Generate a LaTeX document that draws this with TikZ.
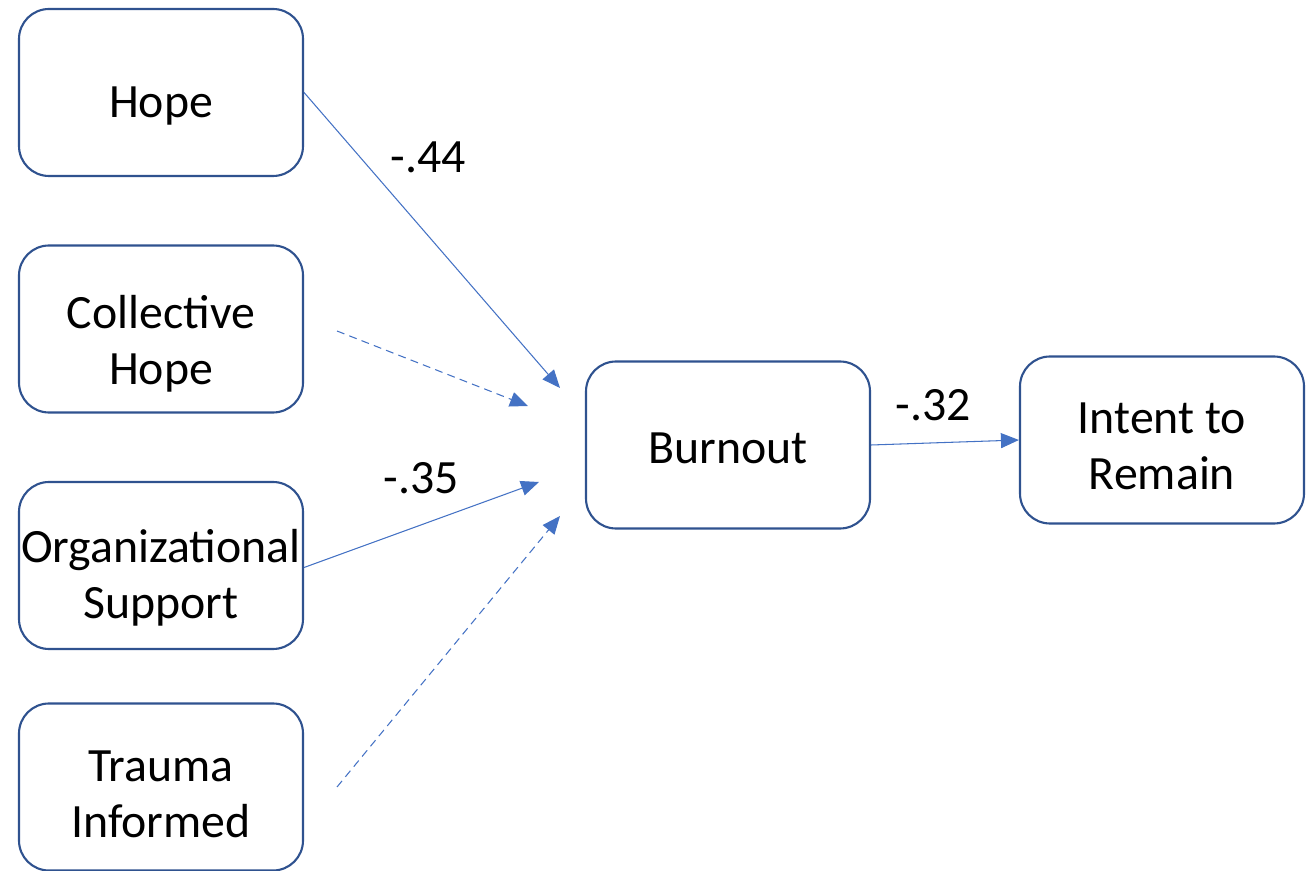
\documentclass[tikz,border=0pt]{standalone}
\usepackage{fontspec}
\setmainfont{Carlito}
\usepackage{tikz}
\usetikzlibrary{arrows.meta,calc}

\definecolor{boxline}{HTML}{2F528F}
\definecolor{pathblue}{HTML}{4472C4}

\tikzset{
  txt/.style={align=center, font=\fontsize{27.2}{32}\selectfont},
  var/.style 2 args={draw=boxline, line width=1.2pt, rounded corners=0.6cm,
    minimum width=5.68cm, minimum height=3.34cm, inner sep=0pt,
    label={[txt,yshift=#2]center:{#1}}},
  path/.style={draw=pathblue, line width=0.6pt,
    -{Triangle[length=0.36cm,width=0.3cm]}},
  nspath/.style={path, dash pattern=on 4.5pt off 3pt},
  coef/.style={font=\fontsize{27.2}{32}\selectfont}
}

\begin{document}
\begin{tikzpicture}
\useasboundingbox (0,0) rectangle (26.32,-17.42);
%predictors
\path (3.22,-1.85) node[var={Hope}{-0.27cm}] (hope) {};
\path (3.22,-6.58) node[var={Collective\\Hope}{-0.30cm}] (chope) {};
\path (3.22,-11.31) node[var={Organizational\\Support}{-0.24cm}] (orgsup) {};
\path (3.22,-15.74) node[var={Trauma\\Informed}{-0.14cm}] (trauma) {};
%mediator and outcome
\path (14.56,-8.90) node[var={Burnout}{-0.06cm}] (burnout) {};
\path (23.24,-8.80) node[var={Intent to\\Remain}{-0.13cm}] (remain) {};
%free ends
\coordinate (h2) at (11.20,-7.76);
\coordinate (c1) at (6.74,-6.62);
\coordinate (c2) at (10.56,-8.12);
\coordinate (o2) at (10.78,-9.64);
\coordinate (t1) at (6.74,-15.74);
\coordinate (t2) at (11.20,-10.32);
%paths
\draw[path] (hope.east) -- (h2);
\draw[nspath] (c1) -- (c2);
\draw[path] ($(orgsup.east)+(0,-0.04)$) -- (o2);
\draw[nspath] (t1) -- (t2);
\draw[path] (burnout.east) -- (remain.west);
%coefficients
\path (8.56,-3.14) node[coef] (b1) {-.44};
\path (8.42,-9.56) node[coef] (b3) {-.35};
\path (18.66,-8.10) node[coef] (b5) {-.32};
\end{tikzpicture}
\end{document}
